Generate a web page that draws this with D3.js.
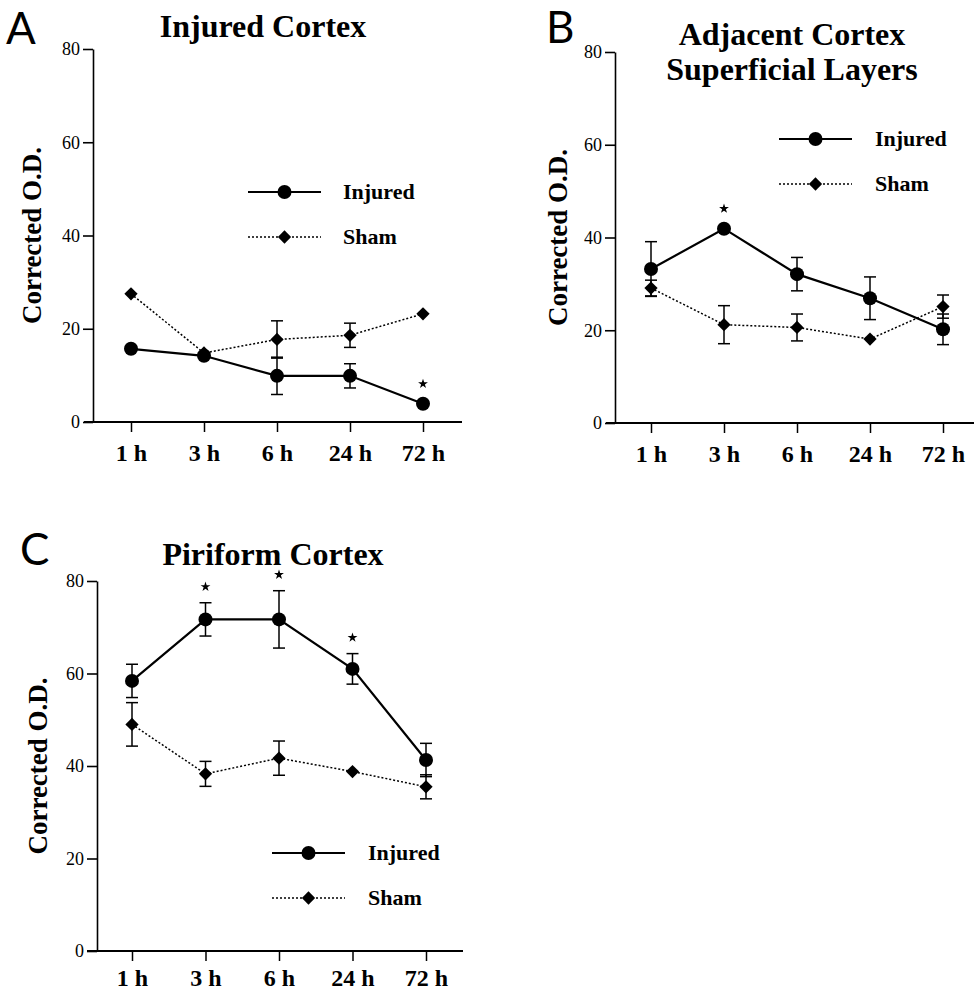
<!DOCTYPE html>
<html>
<head>
<meta charset="utf-8">
<script src="https://cdn.jsdelivr.net/npm/d3@7"></script>
<style>
  body { margin: 0; background: #fff; }
  svg { display: block; }
  .serif { font-family: 'Liberation Serif', 'Times New Roman', serif; }
  .panel-letter { font-family: Lato, 'Open Sans', sans-serif; font-weight: 400; }
</style>
</head>
<body>
<div id="chart"></div>
<script>
// Shared categories and ticks
const timePoints = ['1 h', '3 h', '6 h', '24 h', '72 h'];
const yTicks = [0, 20, 40, 60, 80];
const seriesNames = ['Injured', 'Sham'];

// Panel A - Injured Cortex
const injuredA = [15.7, 14.2, 9.9, 9.9, 3.9];
const injuredSemA = [0, 0, 4.0, 2.6, 0];
const shamA = [27.5, 14.8, 17.7, 18.6, 23.2];
const shamSemA = [0, 0, 4.0, 2.6, 0];
const starsA = [false, false, false, false, true];

// Panel B - Adjacent Cortex, superficial layers
const injuredB = [33.2, 41.9, 32.1, 26.9, 20.2];
const injuredSemB = [5.9, 0, 3.6, 4.6, 3.3];
const shamB = [29.1, 21.2, 20.6, 18.1, 25.1];
const shamSemB = [1.7, 4.1, 2.9, 0, 2.5];
const starsB = [false, true, false, false, false];

// Panel C - Piriform Cortex
const injuredC = [58.4, 71.7, 71.7, 61.0, 41.3];
const injuredSemC = [3.6, 3.6, 6.2, 3.3, 3.6];
const shamC = [49.0, 38.3, 41.7, 38.8, 35.5];
const shamSemC = [4.7, 2.7, 3.7, 0, 2.6];
const starsC = [false, true, true, true, false];

const W = 974, H = 993;

const svg = d3.select('#chart').append('svg')
  .attr('width', W)
  .attr('height', H);

// Panel layout: axis origin, y range and x range in page pixels.
const panels = [
  {
    letter: 'A', title: ['Injured Cortex'],
    injured: injuredA, injuredSem: injuredSemA, sham: shamA, shamSem: shamSemA, stars: starsA,
    axisX: 93, yTop: 49, yBottom: 422, xFirst: 131, xLast: 423, xStart: 84, xEnd: 462,
    labelPad: 12, letterPos: [6, 44], titleX: 263, titleY: [37],
    yLabelX: 41, legend: { x0: 248, x1: 321, textX: 343, y: 192, gap: 45 }
  },
  {
    letter: 'B', title: ['Adjacent Cortex', 'Superficial Layers'],
    injured: injuredB, injuredSem: injuredSemB, sham: shamB, shamSem: shamSemB, stars: starsB,
    axisX: 615, yTop: 52, yBottom: 423, xFirst: 651, xLast: 943, xStart: 606, xEnd: 974,
    labelPad: 12, letterPos: [546, 43], titleX: 792, titleY: [45, 80],
    yLabelX: 567, legend: { x0: 779, x1: 852, textX: 875, y: 139, gap: 45 }
  },
  {
    letter: 'C', title: ['Piriform Cortex'],
    injured: injuredC, injuredSem: injuredSemC, sham: shamC, shamSem: shamSemC, stars: starsC,
    axisX: 97, yTop: 581, yBottom: 951, xFirst: 132, xLast: 426, xStart: 87, xEnd: 463,
    labelPad: 8, letterPos: [20, 565], titleX: 273, titleY: [565],
    yLabelX: 47, legend: { x0: 272, x1: 345, textX: 368, y: 853, gap: 45 }
  }
];

const diamond = d3.symbol().type(d3.symbolSquare).size(88);
const star = d3.symbol().type(d3.symbolStar).size(30);

function drawPanel(p) {
  const g = svg.append('g').attr('class', 'panel');

  const x = d3.scalePoint().domain(timePoints).range([p.xFirst, p.xLast]);
  const y = d3.scaleLinear().domain([0, 80]).range([p.yBottom, p.yTop]);

  // Panel letter
  g.append('text')
    .attr('class', 'panel-letter')
    .attr('x', p.letterPos[0])
    .attr('y', p.letterPos[1])
    .attr('font-size', 44)
    .text(p.letter);

  // Title (one or two lines)
  p.title.forEach((t, i) => {
    g.append('text')
      .attr('class', 'serif')
      .attr('x', p.titleX)
      .attr('y', p.titleY[i])
      .attr('text-anchor', 'middle')
      .attr('font-size', 32)
      .attr('font-weight', 'bold')
      .text(t);
  });

  // Y axis
  const yAx = g.append('g')
    .attr('class', 'y axis serif')
    .attr('transform', `translate(${p.axisX},0)`)
    .call(d3.axisLeft(y).tickValues(yTicks).tickSize(10).tickSizeOuter(0).tickPadding(3));
  yAx.attr('font-family', null);
  yAx.selectAll('text').attr('font-size', 18);
  yAx.selectAll('line, path').attr('stroke', '#000').attr('stroke-width', 1.6);

  // X axis
  const xAx = g.append('g')
    .attr('class', 'x axis serif')
    .attr('transform', `translate(0,${p.yBottom})`)
    .call(d3.axisBottom(x).tickSize(10).tickPadding(p.labelPad));
  xAx.attr('font-family', null);
  xAx.select('.domain').remove();
  xAx.selectAll('text')
    .attr('font-size', 24)
    .attr('font-weight', 'bold');
  xAx.selectAll('line').attr('stroke', '#000').attr('stroke-width', 1.5);
  xAx.append('line')
    .attr('x1', p.xStart)
    .attr('x2', p.xEnd)
    .attr('stroke', '#000')
    .attr('stroke-width', 2);

  // Y axis title
  g.append('text')
    .attr('class', 'serif')
    .attr('transform', `translate(${p.yLabelX},${(p.yTop + p.yBottom) / 2}) rotate(-90)`)
    .attr('text-anchor', 'middle')
    .attr('font-size', 27)
    .attr('font-weight', 'bold')
    .text('Corrected O.D.');

  const injuredPts = timePoints.map((t, i) => ({ t, v: p.injured[i], s: p.injuredSem[i], star: p.stars[i] }));
  const shamPts = timePoints.map((t, i) => ({ t, v: p.sham[i], s: p.shamSem[i] }));

  const line = d3.line().x(d => x(d.t)).y(d => y(d.v));

  // Error bars (drawn first so markers sit on top)
  const allErr = injuredPts.concat(shamPts).filter(d => d.s > 0);
  const eb = g.append('g').attr('class', 'errorbars')
    .attr('stroke', '#000').attr('stroke-width', 1.5);
  eb.selectAll('line.stem').data(allErr).enter().append('line')
    .attr('class', 'stem')
    .attr('x1', d => x(d.t)).attr('x2', d => x(d.t))
    .attr('y1', d => y(d.v + d.s)).attr('y2', d => y(d.v - d.s));
  eb.selectAll('line.cap-top').data(allErr).enter().append('line')
    .attr('class', 'cap-top')
    .attr('x1', d => x(d.t) - 6).attr('x2', d => x(d.t) + 6)
    .attr('y1', d => y(d.v + d.s)).attr('y2', d => y(d.v + d.s));
  eb.selectAll('line.cap-bot').data(allErr).enter().append('line')
    .attr('class', 'cap-bot')
    .attr('x1', d => x(d.t) - 6).attr('x2', d => x(d.t) + 6)
    .attr('y1', d => y(d.v - d.s)).attr('y2', d => y(d.v - d.s));

  // Sham: dotted line with diamonds
  g.append('path')
    .datum(shamPts)
    .attr('fill', 'none')
    .attr('stroke', '#000')
    .attr('stroke-width', 1.5)
    .attr('stroke-dasharray', '2,2')
    .attr('d', line);
  g.selectAll('path.diamond').data(shamPts).enter().append('path')
    .attr('class', 'diamond')
    .attr('d', diamond)
    .attr('transform', d => `translate(${x(d.t)},${y(d.v)}) rotate(45)`)
    .attr('fill', '#000');

  // Injured: solid line with circles
  g.append('path')
    .datum(injuredPts)
    .attr('fill', 'none')
    .attr('stroke', '#000')
    .attr('stroke-width', 2.2)
    .attr('d', line);
  g.selectAll('circle.injured').data(injuredPts).enter().append('circle')
    .attr('class', 'injured')
    .attr('cx', d => x(d.t))
    .attr('cy', d => y(d.v))
    .attr('r', 7)
    .attr('fill', '#000');

  // Significance stars, just above the point or its error bar
  g.selectAll('path.star').data(injuredPts.filter(d => d.star)).enter().append('path')
    .attr('class', 'star')
    .attr('d', star)
    .attr('transform', d => `translate(${x(d.t)},${y(d.v + d.s) - (d.s > 0 ? 16 : 20)})`)
    .attr('fill', '#000');

  // Legend
  const lg = g.append('g').attr('class', 'legend');
  const L = p.legend;
  const mid = (L.x0 + L.x1) / 2;
  seriesNames.forEach((name, i) => {
    const ly = L.y + i * L.gap;
    lg.append('line')
      .attr('x1', L.x0).attr('x2', L.x1)
      .attr('y1', ly).attr('y2', ly)
      .attr('stroke', '#000')
      .attr('stroke-width', i === 0 ? 2.2 : 1.5)
      .attr('stroke-dasharray', i === 0 ? null : '2,2');
    if (i === 0) {
      lg.append('circle').attr('cx', mid).attr('cy', ly).attr('r', 7).attr('fill', '#000');
    } else {
      lg.append('path').attr('d', diamond)
        .attr('transform', `translate(${mid},${ly}) rotate(45)`)
        .attr('fill', '#000');
    }
    lg.append('text')
      .attr('class', 'serif')
      .attr('x', L.textX)
      .attr('y', ly + 7)
      .attr('font-size', 22)
      .attr('font-weight', 'bold')
      .text(name);
  });
}

panels.forEach(drawPanel);
</script>
</body>
</html>
